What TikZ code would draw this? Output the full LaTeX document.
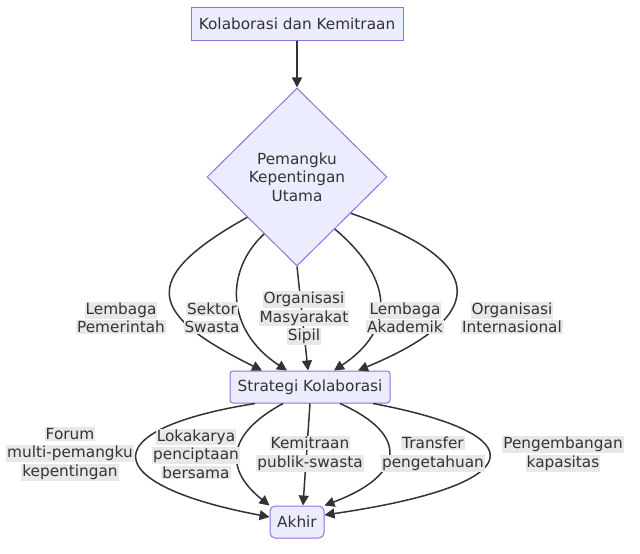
\documentclass[tikz,border=0pt]{standalone}
\usepackage{fontspec}
\setmainfont{DejaVu Sans}
\usetikzlibrary{arrows.meta,shapes.geometric,positioning}
\definecolor{boxfill}{HTML}{ECECFF}
\definecolor{boxline}{HTML}{9370DB}
\definecolor{ink}{HTML}{333333}
\definecolor{lblbg}{HTML}{E8E8E8}
\newcommand{\lblline}[1]{{\setlength{\fboxsep}{1pt}\colorbox{lblbg}{#1}}}

\begin{document}
\begin{tikzpicture}[x=1pt, y=-1pt, >={Triangle[length=10pt,width=10pt]},
  every node/.style={font=\fontsize{15.3}{18.5}\selectfont, text=ink},
  box/.style={draw=boxline, fill=boxfill, line width=1pt, inner sep=0pt},
  edge/.style={->, draw=ink, line width=1.5pt},
  lbl/.style={align=center, inner sep=0pt}]
  \useasboundingbox (0,0) rectangle (640,554);

  % ---- Nodes ----
  \node[box, minimum width=212pt, minimum height=33pt] (start) at (297,23.5) {Kolaborasi dan Kemitraan};
  \node[box, diamond, minimum width=180pt, minimum height=178pt, align=center] (pemangku) at (297,177)
    {Pemangku\\Kepentingan\\Utama};
  \node[box, rounded corners=3pt, minimum width=160pt, minimum height=32pt] (strategi) at (310,387) {Strategi Kolaborasi};
  \node[box, rounded corners=5pt, minimum width=54pt, minimum height=32pt] (akhir) at (297,522) {Akhir};

  \draw[edge] (start) -- (pemangku);

  % ---- Stakeholders -> strategy ----
  \draw[edge] (pemangku.219) .. controls (135,280) and (150,315) .. ([xshift=-48pt]strategi.north);
  \draw[edge] (pemangku.240) .. controls (225,270) and (225,330) .. ([xshift=-23pt]strategi.north);
  \draw[edge] (pemangku.south) -- ([xshift=-2pt]strategi.north);
  \draw[edge] (pemangku.306) .. controls (395,280) and (395,330) .. ([xshift=24pt]strategi.north);
  \draw[edge] (pemangku.326) .. controls (500,265) and (480,320) .. ([xshift=48pt]strategi.north);

  % ---- Strategy -> end ----
  \draw[edge] ([xshift=-55pt]strategi.south) .. controls (90,430) and (100,485) .. ([yshift=5pt]akhir.west);
  \draw[edge] ([xshift=-27pt]strategi.south) .. controls (225,435) and (225,470) .. (akhir.north west);
  \draw[edge] (strategi.south) -- ([xshift=6pt]akhir.north);
  \draw[edge] ([xshift=30pt]strategi.south) .. controls (410,435) and (405,475) .. (akhir.north east);
  \draw[edge] ([xshift=63pt]strategi.south) .. controls (540,435) and (530,485) .. ([yshift=7pt]akhir.east);

  % ---- Edge labels ----
  \foreach \nm/\x/\y/\txt in {pemerintah/121/318/{\lblline{Lembaga}\\\lblline{Pemerintah}},
                              swasta/212/318/{\lblline{Sektor}\\\lblline{Swasta}},
                              sipil/304/318/{\lblline{Organisasi}\\\lblline{Masyarakat}\\\lblline{Sipil}},
                              akademik/405/318/{\lblline{Lembaga}\\\lblline{Akademik}},
                              internasional/512/318/{\lblline{Organisasi}\\\lblline{Internasional}},
                              forum/70/454/{\lblline{Forum}\\\lblline{multi-pemangku}\\\lblline{kepentingan}},
                              lokakarya/196/454/{\lblline{Lokakarya}\\\lblline{penciptaan}\\\lblline{bersama}},
                              kemitraan/310/454/{\lblline{Kemitraan}\\\lblline{publik-swasta}},
                              transfer/433/454/{\lblline{Transfer}\\\lblline{pengetahuan}},
                              kapasitas/563/454/{\lblline{Pengembangan}\\\lblline{kapasitas}}} {
    \node[lbl] (\nm) at (\x,\y) {\txt};
  }
\end{tikzpicture}
\end{document}
